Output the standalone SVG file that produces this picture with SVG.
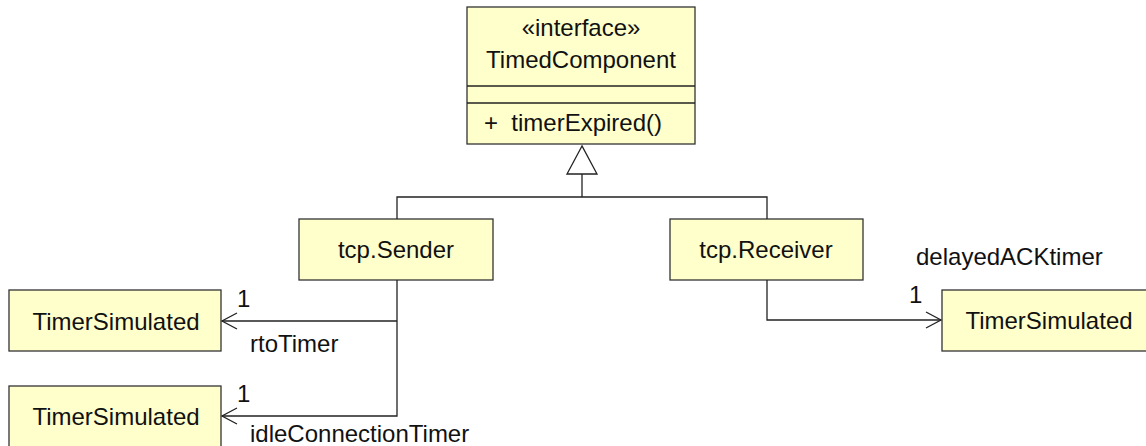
<svg xmlns="http://www.w3.org/2000/svg" width="1146" height="446" viewBox="0 0 1146 446">
<style>
.box{fill:#ffffcc;stroke:#333;stroke-width:1.3}
.t{font-family:"Liberation Sans",Arial,sans-serif;font-size:24px;fill:#111}
.c{text-anchor:middle}
.ln{fill:none;stroke:#222;stroke-width:1.3}
</style>
<rect width="1146" height="446" fill="#fff"/>
<g id="TimedComponent">
<rect class="box" x="467" y="7" width="228" height="137"/>
<line class="ln" x1="467" y1="86" x2="695" y2="86"/>
<line class="ln" x1="467" y1="103" x2="695" y2="103"/>
<text class="t c" x="581" y="36">«interface»</text>
<text class="t c" x="581" y="68">TimedComponent</text>
<text class="t" x="484" y="131" xml:space="preserve">+  timerExpired()</text>
</g>
<g id="Sender">
<rect class="box" x="299" y="219" width="194" height="61"/>
<text class="t c" x="396" y="258">tcp.Sender</text>
</g>
<g id="Receiver">
<rect class="box" x="670" y="219" width="193" height="61"/>
<text class="t c" x="766" y="258">tcp.Receiver</text>
</g>
<g id="Timer1">
<rect class="box" x="9" y="290" width="212" height="61"/>
<text class="t c" x="116" y="330">TimerSimulated</text>
</g>
<g id="Timer2">
<rect class="box" x="9" y="386" width="212" height="70"/>
<text class="t c" x="116" y="425">TimerSimulated</text>
</g>
<g id="Timer3">
<rect class="box" x="942" y="290" width="214" height="61"/>
<text class="t c" x="1049" y="329">TimerSimulated</text>
</g>
<g id="connectors">
<polyline class="ln" points="397,219 397,197 767,197 767,219"/>
<line class="ln" x1="582" y1="197" x2="582" y2="174"/>
<polygon points="582,146 567,174 597,174" fill="#fff" stroke="#222" stroke-width="1.3"/>
<polyline class="ln" points="397,280 397,416 222,416"/>
<line class="ln" x1="397" y1="321" x2="222" y2="321"/>
<polyline class="ln" points="237,313 222,321 237,329"/>
<polyline class="ln" points="237,408 222,416 237,424"/>
<polyline class="ln" points="767,280 767,320 941,320"/>
<polyline class="ln" points="926,312 941,320 926,328"/>
<text class="t" x="237" y="307">1</text>
<text class="t" x="250" y="352">rtoTimer</text>
<text class="t" x="237" y="402">1</text>
<text class="t" x="250" y="442">idleConnectionTimer</text>
<text class="t" x="909" y="303">1</text>
<text class="t" x="916" y="265">delayedACKtimer</text>
</g>
</svg>
